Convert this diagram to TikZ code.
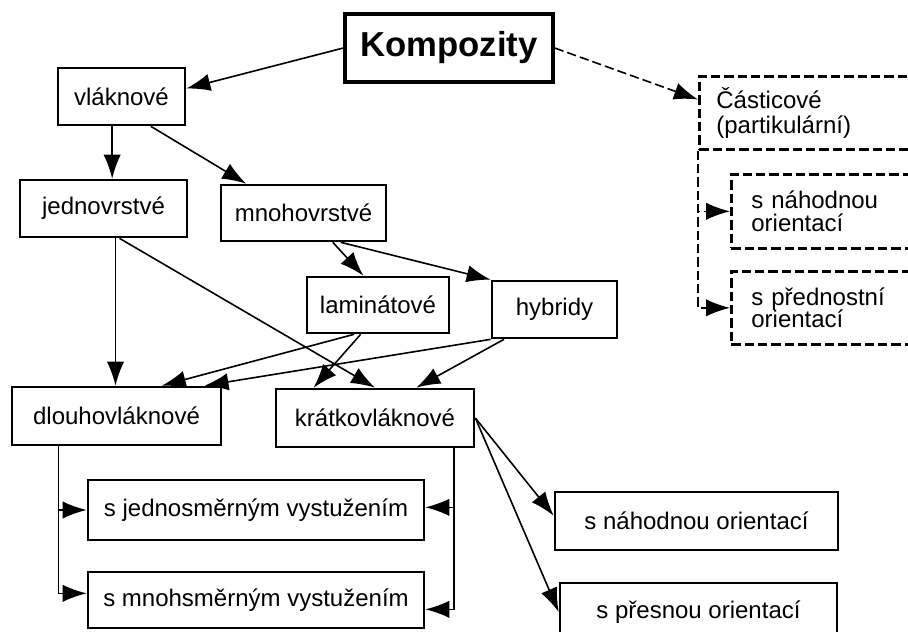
\documentclass[tikz,border=0pt]{standalone}
\usepackage{fontspec}
\setmainfont{Liberation Sans}
\usetikzlibrary{arrows.meta}

\begin{document}
\begin{tikzpicture}[x=0.75pt,y=-0.75pt,
  box/.style={draw,line width=2pt,inner sep=0pt,font=\fontsize{18}{20}\selectfont},
  dbox/.style={draw,line width=2pt,dash pattern=on 7pt off 3pt,inner ysep=0pt,anchor=north west,align=left,text width=150pt},
  arr/.style={-{Latex[length=18pt,width=13pt]},line width=1.2pt},
  darr/.style={arr,dash pattern=on 7pt off 3pt}]
\path[use as bounding box,clip] (0,0) rectangle (908,632);
\node[box,line width=2.5pt,minimum width=156pt,minimum height=51pt,font=\fontsize{26}{30}\selectfont\bfseries] (komp) at (449,48) {Kompozity};
\node[box,minimum width=95.25pt,minimum height=42.75pt] (vlak) at (121.5,96.5) {vláknové};
\node[box,minimum width=125.25pt,minimum height=42.75pt] (jedn) at (103.5,208.5) {jednovrstvé};
\node[box,minimum width=123.75pt,minimum height=42pt] (mnoho) at (303.5,213) {mnohovrstvé};
\node[box,minimum width=106.5pt,minimum height=42pt] (lamin) at (378,305) {laminátové};
\node[box,minimum width=93.75pt,minimum height=42.75pt] (hybr) at (554.5,309.5) {hybridy};
\node[box,minimum width=156.75pt,minimum height=43.5pt] (dlouho) at (116.5,416) {dlouhovláknové};
\node[box,minimum width=148.5pt,minimum height=43.5pt] (kratko) at (375,418) {krátkovláknové};
\node[box,minimum width=252pt,minimum height=45pt] (sjedn) at (256,510) {s jednosměrným vystužením};
\node[box,minimum width=252pt,minimum height=42pt] (smnoh) at (256,600) {s mnohsměrným vystužením};
\node[box,minimum width=212.25pt,minimum height=43.5pt] (snah) at (696.5,521) {s náhodnou orientací};
\node[box,minimum width=207.75pt,minimum height=43.5pt] (spres) at (698.5,612) {s přesnou orientací};
% castice
\node[dbox,inner xsep=12.75pt,minimum height=54.75pt,font=\fontsize{18}{18.75}\selectfont] (castic) at (698,75) {Částicové\\(partikulární)};
\node[dbox,inner xsep=15pt,minimum height=55.5pt,font=\fontsize{18}{17}\selectfont] (cnah) at (730,173) {s náhodnou\\orientací};
\node[dbox,inner xsep=15pt,minimum height=54.75pt,font=\fontsize{18}{17}\selectfont] (cpred) at (730,270) {s přednostní\\orientací};
% sipky
\draw[arr] (komp.west) -- ([yshift=6pt]vlak.east);
\draw[darr] (komp.east) -- ([yshift=10pt]castic.west);
\draw[darr] (castic.south west) |- (cnah.west);
\draw[darr] (castic.south west) |- (cpred.west);
\draw[arr] ([xshift=-7pt]vlak.south) -- ([xshift=-7pt]vlak.south |- jedn.north);
\draw[arr] ([xshift=22pt]vlak.south) -- ([xshift=-43pt]mnoho.north);
\draw[arr] ([xshift=22pt]mnoho.south) -- ([xshift=-11pt]lamin.north);
\draw[arr] ([xshift=28pt]mnoho.south) -- (hybr.north west);
\draw[arr] ([xshift=9pt]jedn.south) -- ([xshift=9pt]jedn.south |- dlouho.north);
\draw[arr] ([xshift=12pt]jedn.south) -- (kratko.north);
\draw[arr] ([xshift=-18pt]lamin.south) -- ([xshift=34pt]dlouho.north);
\draw[arr] ([xshift=-13pt]lamin.south) -- ([xshift=-46pt]kratko.north);
\draw[arr] (hybr.south west) -- ([xshift=66pt]dlouho.north);
\draw[arr] ([xshift=10pt]hybr.south west) -- ([xshift=31pt]kratko.north);
\draw[arr] ([xshift=36pt]dlouho.south west) |- (sjedn.west);
\draw[arr] ([xshift=36pt]dlouho.south west) |- ([yshift=5pt]smnoh.west);
\draw[arr] ([xshift=-16pt]kratko.south east) |- ([yshift=2pt]sjedn.east);
\draw[arr] ([xshift=-16pt]kratko.south east) |- ([yshift=-7pt]smnoh.east);
\draw[arr] (kratko.east) -- ([yshift=4pt]snah.west);
\draw[arr] (kratko.east) -- (spres.west);
\end{tikzpicture}
\end{document}
